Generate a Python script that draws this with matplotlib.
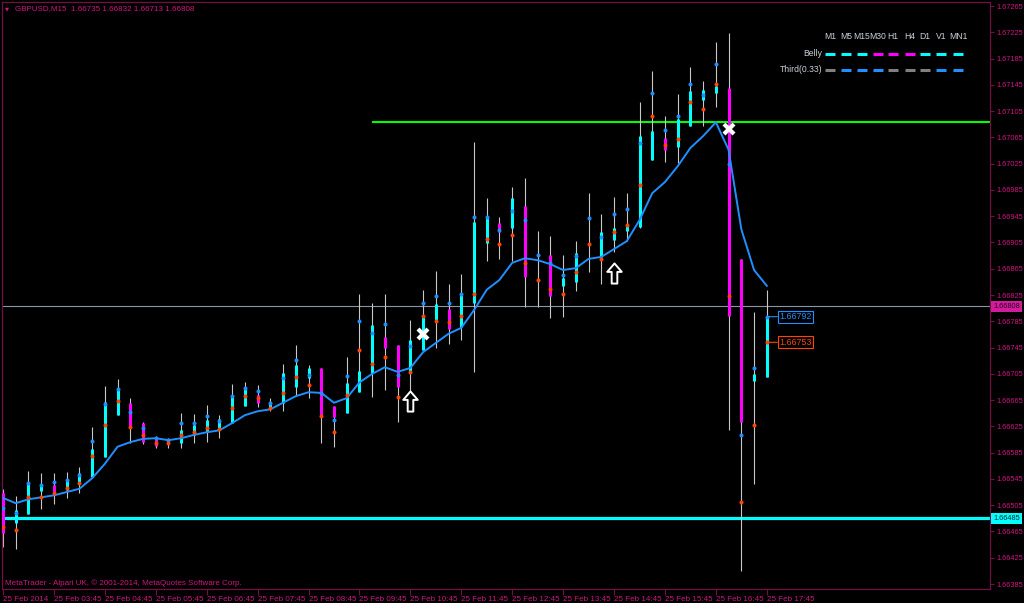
import matplotlib
matplotlib.use("Agg")
import matplotlib.pyplot as plt
import matplotlib.transforms as mtransforms
from matplotlib.path import Path
from matplotlib.lines import Line2D

# ---------------- data ----------------
symbol_title = "GBPUSD,M15"
header_ohlc = [1.66735, 1.66832, 1.66713, 1.66808]

highs = [1.66530, 1.66519, 1.66557, 1.66554, 1.66554, 1.66556, 1.66563, 1.66624, 1.66686, 1.66697,
         1.66668, 1.66632, 1.66610, 1.66607, 1.66645, 1.66644, 1.66658, 1.66642, 1.66689, 1.66692,
         1.66688, 1.66668, 1.66720, 1.66749, 1.66718, 1.66714, 1.66656, 1.66731, 1.66827, 1.66813,
         1.66827, 1.66749, 1.66787, 1.66833, 1.66862, 1.66842, 1.66857, 1.67058, 1.66973, 1.66944,
         1.66989, 1.67003, 1.66922, 1.66915, 1.66886, 1.66907, 1.66980, 1.66948, 1.66974, 1.66980,
         1.67119, 1.67166, 1.67098, 1.67131, 1.67172, 1.67151, 1.67210, 1.67224, 1.66880, 1.66799,
         1.66832]
lows = [1.66441, 1.66438, 1.66492, 1.66499, 1.66507, 1.66516, 1.66524, 1.66548, 1.66578, 1.66642,
        1.66600, 1.66598, 1.66592, 1.66592, 1.66592, 1.66600, 1.66601, 1.66607, 1.66630, 1.66656,
        1.66654, 1.66648, 1.66648, 1.66671, 1.66668, 1.66600, 1.66594, 1.66645, 1.66677, 1.66670,
        1.66680, 1.66632, 1.66650, 1.66741, 1.66744, 1.66750, 1.66756, 1.66708, 1.66877, 1.66880,
        1.66877, 1.66807, 1.66807, 1.66790, 1.66792, 1.66831, 1.66860, 1.66842, 1.66890, 1.66907,
        1.66927, 1.67031, 1.67027, 1.67026, 1.67082, 1.67082, 1.67111, 1.66620, 1.66405, 1.66537,
        1.66700]
opens = [1.66524, 1.66478, 1.66492, 1.66527, 1.66536, 1.66528, 1.66537, 1.66548, 1.66578, 1.66642,
         1.66661, 1.66630, 1.66609, 1.66600, 1.66600, 1.66612, 1.66616, 1.66619, 1.66630, 1.66656,
         1.66673, 1.66653, 1.66661, 1.66685, 1.66699, 1.66714, 1.66656, 1.66645, 1.66677, 1.66706,
         1.66761, 1.66749, 1.66706, 1.66741, 1.66787, 1.66804, 1.66776, 1.66813, 1.66904, 1.66935,
         1.66927, 1.66960, 1.66884, 1.66886, 1.66839, 1.66845, 1.66940, 1.66883, 1.66909, 1.66922,
         1.66929, 1.67031, 1.67064, 1.67050, 1.67082, 1.67122, 1.67133, 1.67140, 1.66880, 1.66694,
         1.66700]
closes = [1.66463, 1.66498, 1.66539, 1.66537, 1.66525, 1.66543, 1.66554, 1.66591, 1.66662, 1.66683,
          1.66624, 1.66601, 1.66595, 1.66604, 1.66619, 1.66627, 1.66635, 1.66636, 1.66670, 1.66683,
          1.66661, 1.66661, 1.66706, 1.66718, 1.66714, 1.66639, 1.66639, 1.66691, 1.66709, 1.66779,
          1.66744, 1.66685, 1.66756, 1.66792, 1.66811, 1.66773, 1.66828, 1.66936, 1.66944, 1.66921,
          1.66973, 1.66852, 1.66888, 1.66824, 1.66851, 1.66889, 1.66944, 1.66921, 1.66927, 1.66932,
          1.67067, 1.67075, 1.67046, 1.67093, 1.67136, 1.67137, 1.67143, 1.66793, 1.66632, 1.66705,
          1.66792]
blue_dots = [1.66501, 1.66493, 1.66539, 1.66536, 1.66540, 1.66543, 1.66551, 1.66603, 1.66659, 1.66682,
             1.66647, 1.66622, 1.66607, 1.66604, 1.66630, 1.66630, 1.66641, 1.66633, 1.66671, 1.66683,
             1.66679, 1.66661, 1.66699, 1.66726, 1.66703, 1.66676, 1.66635, 1.66702, 1.66785, 1.66767,
             1.66781, 1.66703, 1.66747, 1.66813, 1.66824, 1.66813, 1.66827, 1.66944, 1.66944, 1.66924,
             1.66953, 1.66939, 1.66886, 1.66874, 1.66855, 1.66884, 1.66942, 1.66913, 1.66948, 1.66956,
             1.67056, 1.67133, 1.67076, 1.67098, 1.67146, 1.67129, 1.67177, 1.67024, 1.66612, 1.66714,
             1.66792]
red_dots = [1.66472, 1.66467, 1.66517, 1.66517, 1.66524, 1.66531, 1.66539, 1.66580, 1.66627, 1.66664,
            1.66624, 1.66612, 1.66600, 1.66600, 1.66612, 1.66616, 1.66622, 1.66621, 1.66653, 1.66671,
            1.66668, 1.66653, 1.66676, 1.66700, 1.66688, 1.66641, 1.66616, 1.66673, 1.66741, 1.66720,
            1.66731, 1.66670, 1.66708, 1.66793, 1.66785, 1.66784, 1.66793, 1.66827, 1.66910, 1.66903,
            1.66916, 1.66874, 1.66848, 1.66834, 1.66827, 1.66860, 1.66903, 1.66880, 1.66921, 1.66932,
            1.66992, 1.67098, 1.67053, 1.67062, 1.67119, 1.67108, 1.67146, 1.66824, 1.66510, 1.66627,
            1.66753]
ma_line = [1.66516, 1.66508, 1.66514, 1.66517, 1.66520, 1.66525, 1.66530, 1.66546, 1.66568, 1.66594,
           1.66601, 1.66606, 1.66607, 1.66604, 1.66607, 1.66612, 1.66616, 1.66619, 1.66630, 1.66642,
           1.66648, 1.66651, 1.66661, 1.66671, 1.66677, 1.66676, 1.66661, 1.66668, 1.66692, 1.66705,
           1.66715, 1.66708, 1.66714, 1.66738, 1.66752, 1.66766, 1.66775, 1.66802, 1.66833, 1.66848,
           1.66874, 1.66881, 1.66878, 1.66872, 1.66863, 1.66866, 1.66880, 1.66883, 1.66895, 1.66907,
           1.66939, 1.66980, 1.66997, 1.67021, 1.67049, 1.67067, 1.67088, 1.67046, 1.66925, 1.66863,
           1.66839]

arrow_bars = [32, 48]
arrow_prices = [1.66664, 1.66858]
cross_bars = [33, 57]
cross_prices = [1.66766, 1.67078]

support_level = 1.66485
resistance_level = 1.67088
resistance_start_bar = 29

price_ticks = [1.67265, 1.67225, 1.67185, 1.67145, 1.67105, 1.67065, 1.67025, 1.66985,
               1.66945, 1.66905, 1.66865, 1.66825, 1.66785, 1.66745, 1.66705, 1.66665,
               1.66625, 1.66585, 1.66545, 1.66505, 1.66465, 1.66425, 1.66385]
time_tick_bars = [0, 4, 8, 12, 16, 20, 24, 28, 32, 36, 40, 44, 48, 52, 56, 60]
time_labels = ["25 Feb 2014", "25 Feb 03:45", "25 Feb 04:45", "25 Feb 05:45", "25 Feb 06:45",
               "25 Feb 07:45", "25 Feb 08:45", "25 Feb 09:45", "25 Feb 10:45", "25 Feb 11:45",
               "25 Feb 12:45", "25 Feb 13:45", "25 Feb 14:45", "25 Feb 15:45", "25 Feb 16:45",
               "25 Feb 17:45"]

legend_timeframes = ["M1", "M5", "M15", "M30", "H1", "H4", "D1", "V1", "MN1"]
legend_rows = ["Belly", "Third(0.33)"]
belly_colors = ["#00ffff", "#00ffff", "#00ffff", "#ff00ff", "#ff00ff", "#ff00ff", "#00ffff", "#00ffff", "#00ffff"]
third_colors = ["#808080", "#1e90ff", "#1e90ff", "#1e90ff", "#808080", "#808080", "#808080", "#1e90ff", "#1e90ff"]

copyright_text = "MetaTrader - Alpari UK, \u00a9 2001-2014, MetaQuotes Software Corp."

# ---------------- styling ----------------
FONT = ["Liberation Sans", "DejaVu Sans"]
plt.rcParams["font.family"] = FONT
PINK = "#d0167f"
FRAME = "#701043"
CYAN = "#00ffff"
MAGENTA = "#ff00ff"
BLUE = "#1e90ff"
ORANGE = "#ff4500"
WICK = "#c8c8c8"
FS = 5.8
FS_Y = 5.3

W, H = 1024, 603
fig = plt.figure(figsize=(W / 100, H / 100), dpi=100, facecolor="black")


def fx(px):
    return px / W


def fy(py):
    return 1 - py / H


L_PX, R_PX, T_PX, B_PX = 2, 990, 2, 589
BAR_PX = 12.73
ax = fig.add_axes([fx(L_PX), fy(B_PX), (R_PX - L_PX) / W, (B_PX - T_PX) / H])
ax.set_facecolor("black")

n = len(highs)
idx = list(range(n))
x0 = -1.0 / BAR_PX
ax.set_xlim(x0, x0 + (R_PX - L_PX) / BAR_PX)
ax.set_ylim(1.663774, 1.672711)

# horizontal lines
ax.axhline(support_level, color=CYAN, lw=2.3, zorder=1)
ax.axhline(header_ohlc[3], color="#8a96a4", lw=0.8, zorder=1)
ax.plot([resistance_start_bar, ax.get_xlim()[1]], [resistance_level, resistance_level],
        color="#00ff00", lw=1.5, zorder=1, solid_capstyle="butt")

# bars
ax.vlines(idx, lows, highs, colors=WICK, lw=0.8, zorder=2)
body_colors = [CYAN if c >= o else MAGENTA for o, c in zip(opens, closes)]
ax.vlines(idx, opens, closes, colors=body_colors, lw=2.2, zorder=3)

# moving average
ax.plot(idx, ma_line, color=BLUE, lw=1.4, zorder=4, solid_joinstyle="round")

# dots
ax.plot(idx, blue_dots, "o", color=BLUE, ms=2.9, mew=0, zorder=5)
ax.plot(idx, red_dots, "o", color=ORANGE, ms=2.9, mew=0, zorder=5)

# signal markers
arrow_path = Path([(0, 0.5), (0.36, 0.08), (0.14, 0.08), (0.14, -0.5), (-0.14, -0.5),
                   (-0.14, 0.08), (-0.36, 0.08), (0, 0.5)], closed=True)
ax.plot(arrow_bars, arrow_prices, linestyle="none", marker=arrow_path, ms=14.5,
        mfc="black", mec="white", mew=1.4, zorder=6)
ax.plot(cross_bars, cross_prices, linestyle="none", marker="x", ms=7.5,
        mfc="white", mec="white", mew=3.0, zorder=6)

# price labels of the last bar
for val, col in [(blue_dots[-1], BLUE), (red_dots[-1], ORANGE)]:
    ax.annotate(f"{val:.5f}", xy=(idx[-1], val), xytext=(9, 0), textcoords="offset points",
                ha="left", va="center", color=col, fontsize=6.4,
                bbox=dict(boxstyle="square,pad=0.18", fc="black", ec=col, lw=0.8),
                arrowprops=dict(arrowstyle="-", color=col, lw=0.8, shrinkA=0, shrinkB=0),
                zorder=7)

# frame
for sp in ax.spines.values():
    sp.set_color(FRAME)
    sp.set_linewidth(0.9)

# y axis on right
ax.yaxis.tick_right()
ax.set_yticks(price_ticks)
ax.set_yticklabels([f"{p:.5f}" for p in price_ticks])
ax.tick_params(axis="y", color=FRAME, labelcolor=PINK, length=3, width=0.8, pad=1.5,
               labelsize=FS_Y)

# x axis
ax.set_xticks(time_tick_bars)
ax.set_xticklabels(time_labels)
ax.tick_params(axis="x", color=FRAME, labelcolor=PINK, length=4, width=0.8, pad=1, labelsize=FS)
for lab in ax.get_xticklabels():
    lab.set_horizontalalignment("left")

# right-axis value boxes
trans = mtransforms.blended_transform_factory(ax.transAxes, ax.transData)
for val, fc, tc in [(header_ohlc[3], "#d21c9c", "#2a0020"), (support_level, CYAN, "#002a2a")]:
    ax.text(1.0 + 3.0 / (R_PX - L_PX), val, f"{val:.5f}", transform=trans, ha="left", va="center",
            fontsize=FS_Y, color=tc, clip_on=False, zorder=10,
            bbox=dict(boxstyle="square,pad=0.28", fc=fc, ec="none"))

# header
fig.text(fx(5), fy(8.5), "\u25bc", fontsize=3.8, color=PINK, ha="left", va="center",
         family=["DejaVu Sans"])
hdr = "  ".join([symbol_title, " ".join(f"{v:.5f}" for v in header_ohlc)])
fig.text(fx(15), fy(8.5), hdr, fontsize=FS, color=PINK, ha="left", va="center")

# copyright
fig.text(fx(5), fy(583), copyright_text, fontsize=FS, color=PINK, ha="left", va="center")

# indicator legend (top right)
col_x = [830, 846, 862, 878, 893, 909.5, 925, 941, 958]
for tf, cx in zip(legend_timeframes, col_x):
    fig.text(fx(cx), fy(36.5), tf, fontsize=6.2, color="#c8d0d8", ha="center", va="center")
row_y = [53.5, 70]
for name, ry, cols in zip(legend_rows, row_y, [belly_colors, third_colors]):
    fig.text(fx(822), fy(ry), name, fontsize=6.2, color="#c8d0d8", ha="right", va="center")
    for cx, c in zip(col_x, cols):
        fig.add_artist(Line2D([fx(cx - 5), fx(cx + 5)], [fy(ry), fy(ry)], color=c, lw=2.2,
                              solid_capstyle="butt", transform=fig.transFigure))

fig.savefig("out.png", dpi=100, facecolor="black")
